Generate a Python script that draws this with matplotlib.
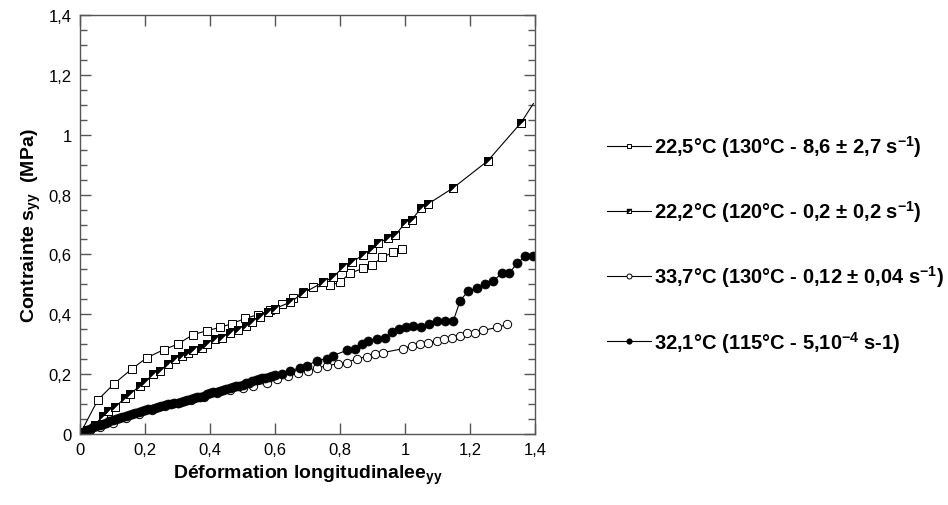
import matplotlib
matplotlib.use('Agg')
import matplotlib.pyplot as plt
from matplotlib.ticker import MultipleLocator, FuncFormatter

# --- Données ---
x_225 = [0, 0.055, 0.105, 0.16, 0.206, 0.258, 0.30, 0.348, 0.39, 0.43, 0.468, 0.508, 0.548,
         0.585, 0.62, 0.655, 0.686, 0.717, 0.77, 0.80, 0.83, 0.87, 0.898, 0.93, 0.963, 0.99]
y_225 = [0, 0.114, 0.168, 0.218, 0.255, 0.282, 0.30, 0.332, 0.345, 0.356, 0.369, 0.386, 0.399,
         0.413, 0.436, 0.453, 0.473, 0.49, 0.497, 0.507, 0.537, 0.553, 0.564, 0.59, 0.607, 0.617]

x_222 = [0, 0.02, 0.045, 0.07, 0.086, 0.108, 0.138, 0.154, 0.185, 0.2, 0.225, 0.246, 0.271, 0.292,
         0.314, 0.332, 0.348, 0.375, 0.39, 0.415, 0.437, 0.46, 0.486, 0.51, 0.53, 0.554, 0.578,
         0.60, 0.646, 0.686, 0.748, 0.778, 0.81, 0.837, 0.87, 0.898, 0.917, 0.948, 0.97, 1.0,
         1.02, 1.05, 1.07, 1.148, 1.255, 1.357, 1.395]
y_222 = [0, 0.012, 0.03, 0.06, 0.077, 0.09, 0.12, 0.134, 0.161, 0.174, 0.2, 0.211, 0.235, 0.25,
         0.262, 0.272, 0.279, 0.289, 0.30, 0.318, 0.322, 0.339, 0.349, 0.36, 0.373, 0.39, 0.406,
         0.419, 0.44, 0.47, 0.507, 0.524, 0.557, 0.574, 0.598, 0.617, 0.638, 0.654, 0.664, 0.705,
         0.715, 0.755, 0.768, 0.822, 0.913, 1.04, 1.104]

x_337 = [0, 0.03, 0.06, 0.1, 0.14, 0.18, 0.22, 0.26, 0.3, 0.34, 0.38, 0.42, 0.46, 0.5, 0.532,
         0.575, 0.606, 0.64, 0.67, 0.70, 0.729, 0.76, 0.794, 0.82, 0.852, 0.883, 0.908, 0.932,
         0.994, 1.02, 1.046, 1.07, 1.098, 1.12, 1.145, 1.17, 1.19, 1.215, 1.24, 1.283, 1.314]
y_337 = [0, 0.012, 0.025, 0.038, 0.052, 0.066, 0.08, 0.092, 0.102, 0.113, 0.125, 0.138, 0.148,
         0.155, 0.161, 0.171, 0.185, 0.195, 0.205, 0.211, 0.221, 0.228, 0.235, 0.238, 0.252,
         0.258, 0.268, 0.272, 0.285, 0.295, 0.302, 0.305, 0.312, 0.319, 0.322, 0.329, 0.336,
         0.339, 0.346, 0.356, 0.366]

x_321 = [0, 0.01, 0.02, 0.03, 0.04, 0.05, 0.06, 0.07, 0.08, 0.09, 0.1, 0.11, 0.12, 0.13, 0.14,
         0.15, 0.16, 0.17, 0.18, 0.19, 0.2, 0.21, 0.22, 0.23, 0.24, 0.25, 0.26, 0.27, 0.28, 0.29,
         0.3, 0.31, 0.32, 0.33, 0.34, 0.35, 0.36, 0.37, 0.38, 0.39, 0.4, 0.41, 0.42, 0.43, 0.44,
         0.45, 0.46, 0.47, 0.48, 0.49, 0.5, 0.51, 0.52, 0.53, 0.54, 0.55, 0.56, 0.57, 0.58, 0.59,
         0.6, 0.62, 0.646, 0.677, 0.698, 0.729, 0.76, 0.778, 0.82, 0.846, 0.868, 0.886, 0.914,
         0.938, 0.96, 0.98, 1.003, 1.025, 1.05, 1.074, 1.098, 1.123, 1.148, 1.17, 1.194, 1.22,
         1.246, 1.27, 1.298, 1.32, 1.345, 1.37, 1.394]
y_321 = [0, 0.006, 0.012, 0.017, 0.022, 0.026, 0.03, 0.034, 0.038, 0.042, 0.046, 0.05, 0.053,
         0.057, 0.06, 0.063, 0.066, 0.07, 0.073, 0.077, 0.08, 0.083, 0.085, 0.088, 0.09, 0.094,
         0.097, 0.099, 0.1, 0.102, 0.104, 0.107, 0.11, 0.114, 0.117, 0.12, 0.123, 0.125, 0.128,
         0.133, 0.137, 0.139, 0.14, 0.144, 0.147, 0.151, 0.155, 0.158, 0.16, 0.162, 0.165,
         0.169, 0.172, 0.176, 0.18, 0.183, 0.186, 0.188, 0.19, 0.193, 0.196, 0.2, 0.211, 0.221,
         0.228, 0.245, 0.252, 0.262, 0.279, 0.285, 0.302, 0.312, 0.319, 0.322, 0.342, 0.352,
         0.359, 0.362, 0.359, 0.366, 0.379, 0.379, 0.376, 0.446, 0.477, 0.487, 0.50, 0.51,
         0.537, 0.537, 0.57, 0.594, 0.594]

labels = [r'22,5°C (130°C - 8,6 ± 2,7 s$^{\mathbf{-1}}$)',
          r'22,2°C (120°C - 0,2 ± 0,2 s$^{\mathbf{-1}}$)',
          r'33,7°C (130°C - 0,12 ± 0,04 s$^{\mathbf{-1}}$)',
          r'32,1°C (115°C - 5,10$^{\mathbf{-4}}$ s-1)']

# --- Style ---
plt.rcParams['font.family'] = ['Liberation Sans', 'DejaVu Sans']
plt.rcParams['mathtext.fontset'] = 'custom'
plt.rcParams['mathtext.rm'] = 'Liberation Sans'
plt.rcParams['mathtext.bf'] = 'Liberation Sans:bold'
plt.rcParams['mathtext.it'] = 'Liberation Sans:italic'

fig = plt.figure(figsize=(9.48, 5.06), dpi=100)
ax = fig.add_axes([80 / 948, 71 / 506, 455 / 948, 419 / 506])

lw = 0.8
sq_marker = [(-1, -1), (1, -1), (1, 1), (-1, 1), (-1, -1)]
tri_marker = [(-1, -1), (-1, 1), (1, 1), (-1, -1)]

l1, = ax.plot(x_225, y_225, color='black', lw=lw, marker='s', ms=6, mfc='white',
              mec='black', mew=0.7)

l2, = ax.plot(x_222, y_222, color='black', lw=lw, marker=sq_marker, ms=6, mfc='white',
              mec='black', mew=0.7, markevery=list(range(len(x_222) - 1)))
l2b, = ax.plot(x_222[:-1], y_222[:-1], ls='none', marker=tri_marker, ms=6, mfc='black',
               mec='black', mew=0.3)

l3, = ax.plot(x_337, y_337, color='black', lw=lw, marker='o', ms=6, mfc='white',
              mec='black', mew=0.7)

l4, = ax.plot(x_321, y_321, color='black', lw=lw, marker='o', ms=6.5, mfc='black',
              mec='black', mew=0.5)

ax.set_xlim(0, 1.4)
ax.set_ylim(0, 1.4)
ax.xaxis.set_major_locator(MultipleLocator(0.2))
ax.yaxis.set_major_locator(MultipleLocator(0.2))
ax.yaxis.set_minor_locator(MultipleLocator(0.05))

fmt = FuncFormatter(lambda v, p: ('%g' % round(v, 2)).replace('.', ','))
ax.xaxis.set_major_formatter(fmt)
ax.yaxis.set_major_formatter(fmt)

ax.tick_params(which='both', direction='in', top=True, right=True, labelsize=12,
               color='#555555')
ax.tick_params(which='major', length=8, width=1, pad=6)
ax.tick_params(which='minor', length=5, width=1)
for s in ax.spines.values():
    s.set_color('#555555')
    s.set_linewidth(1)

ax.set_xlabel(r'Déformation longitudinale$\mathregular{e}_{\mathbf{yy}}$',
              fontsize=14, fontweight='bold', labelpad=4)
ax.set_ylabel(r'Contrainte $\mathregular{s}_{\mathbf{yy}}$  (MPa)',
              fontsize=14, fontweight='bold', labelpad=4)

leg = fig.legend([l1, (l2, l2b), l3, l4], labels, loc='center left',
                 bbox_to_anchor=(0.640, 0.516), frameon=False, handlelength=2.2,
                 handletextpad=0.15, labelspacing=1.95, markerscale=0.6, borderpad=0,
                 borderaxespad=0, prop={'size': 14.5, 'weight': 'bold'})

fig.savefig('out.png', dpi=100)
